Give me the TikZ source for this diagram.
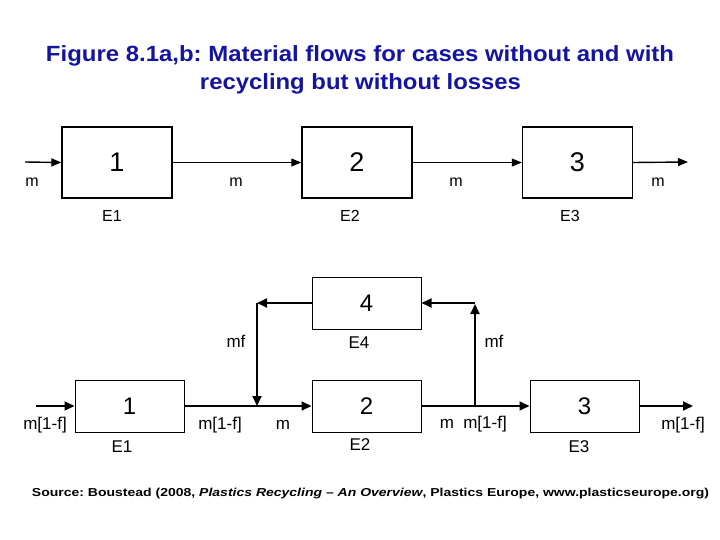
\documentclass[tikz,border=0pt]{standalone}
\usepackage{fontspec}
\setmainfont{Liberation Sans}
\usetikzlibrary{arrows.meta}
\definecolor{titleblue}{RGB}{20,20,160}
\frenchspacing
\begin{document}
\begin{tikzpicture}[x=1pt,y=-1pt,
  topbox/.style={draw, line width=1.4pt, minimum width=110pt, minimum height=71pt, inner sep=0pt, font=\fontsize{27}{27}\selectfont},
  botbox/.style={draw, line width=1pt, minimum width=109pt, minimum height=52pt, inner sep=0pt, font=\fontsize{24}{24}\selectfont},
  topflow/.style={line width=1pt, -{Triangle[length=10pt,width=8pt]}},
  botflow/.style={line width=1.8pt, -{Triangle[length=10pt,width=9pt]}},
  botline/.style={line width=1.8pt},
  lbl/.style={inner sep=0pt, font=\fontsize{16}{16}\selectfont},
  blbl/.style={inner sep=0pt, font=\fontsize{17}{17}\selectfont},
  ttl/.style={inner sep=0pt, anchor=base, text=titleblue, font=\bfseries\fontsize{22}{22}\selectfont}
]
\useasboundingbox (0,0) rectangle (720,540);
% title
\node[ttl] (title1) at (360,62)
  {\resizebox{628pt}{\height}{Figure 8.1a,b: Material flows for cases without and with}};
\node[ttl] (title2) at (360.5,90)
  {\resizebox{321pt}{\height}{recycling but without losses}};
% top row
\node[topbox] (a1) at (117,162.5) {1};
\node[topbox] (a2) at (357,162.5) {2};
\node[topbox] (a3) at (577.5,162.5) {3};
\coordinate (ain) at (25,162);
\coordinate (aout) at (688,162);
\draw[topflow, line width=1.4pt] (ain) -- (a1.west);
\draw[topflow] (a1.east) -- (a2.west);
\draw[topflow] (a2.east) -- (a3.west);
\draw[topflow, line width=1.4pt] (a3.east) -- (aout);
\node[lbl] (am0) at (32,182) {m};
\node[lbl] (am1) at (236,182) {m};
\node[lbl] (am2) at (456,182) {m};
\node[lbl] (am3) at (658,182) {m};
\node[lbl] (ae1) at (112,216) {E1};
\node[lbl] (ae2) at (350,216) {E2};
\node[lbl] (ae3) at (570,216) {E3};
% bottom row
\node[botbox] (b1) at (129.5,406) {1};
\node[botbox] (b2) at (366.5,406) {2};
\node[botbox] (b4) at (366.5,303) {4};
\node[botbox] (b3) at (584.5,406) {3};
\coordinate (bin) at (36,406);
\coordinate (bout) at (693,406);
\coordinate (j1) at (257,406);
\coordinate (c1) at (257,303);
\coordinate (j2) at (475,406);
\coordinate (c2) at (475,303);
\draw[botflow] (bin) -- (b1.west);
\draw[botflow] (b1.east) -- (b2.west);
\draw[botflow] (b2.east) -- (b3.west);
\draw[botflow] (b3.east) -- (bout);
\draw[botflow] (b4.west) -- (c1);
\draw[botflow] (c1) -- (j1);
\draw[botflow] (j2) -- ([yshift=-1pt]c2);
\draw[botflow] (c2) -- (b4.east);
\node[blbl] (bl0) at (45,425) {m[1-f]};
\node[blbl] (bl1) at (220,425) {m[1-f]};
\node[blbl] (bl2) at (283,425) {m};
\node[blbl] (bl3) at (236,341) {mf};
\node[blbl] (bl4) at (494,341) {mf};
\node[blbl] (bl5) at (447,424) {m};
\node[blbl] (bl6) at (485,424) {m[1-f]};
\node[blbl] (bl7) at (683,425) {m[1-f]};
\node[blbl] (be1) at (122,447) {E1};
\node[blbl] (be2) at (360,445) {E2};
\node[blbl] (be4) at (359,343) {E4};
\node[blbl] (be3) at (579,447) {E3};
% source
\node[inner sep=0pt, anchor=base, font=\bfseries\fontsize{11.5}{11.5}\selectfont] (src) at (370.5,496)
  {\resizebox{677pt}{\height}{Source: Boustead (2008, \textit{Plastics Recycling} – \textit{An Overview}, Plastics Europe, www.plasticseurope.org)}};
\end{tikzpicture}
\end{document}
